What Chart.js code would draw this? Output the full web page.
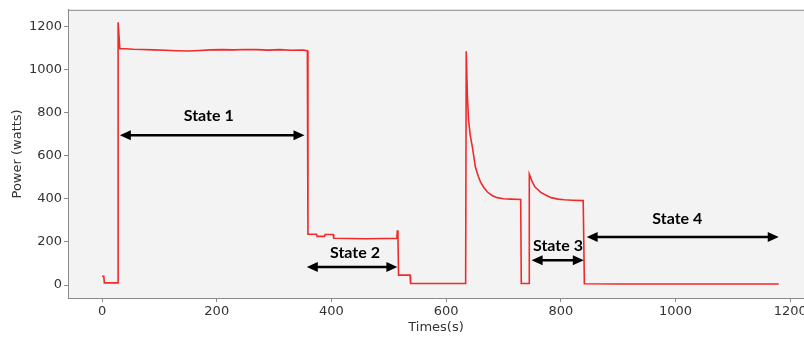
<!DOCTYPE html>
<html>
<head>
<meta charset="utf-8">
<script src="https://cdn.jsdelivr.net/npm/chart.js@4.4.1/dist/chart.umd.min.js"></script>
<style>
    body { margin: 0; background: #ffffff; }
    canvas { display: block; }
</style>
</head>
<body>
<canvas id="powerChart" width="804" height="339"></canvas>
<script>
// time (s) and power (watts)
let times = [0, 3, 4, 28, 28, 31, 33, 40, 55, 70, 90, 110, 130, 150, 170, 190, 210, 230, 250, 270, 290, 310, 330, 350, 358,
    359, 374, 375, 388, 389, 403, 404, 430, 460, 490, 514, 515, 516, 517, 537, 538, 634, 635, 637, 639, 642, 646, 651, 656,
    660, 666, 672, 680, 689, 700, 713, 730, 731, 745, 745, 750, 755, 765, 775, 783, 795, 806, 820, 839, 841, 900, 1000, 1100, 1180];
let power = [41, 41, 10, 10, 1220, 1097, 1097, 1097, 1095, 1094, 1092, 1090, 1088, 1087, 1089, 1092, 1093, 1092, 1094, 1093, 1091, 1093, 1090, 1091, 1088,
    236, 236, 226, 226, 235, 235, 217, 216, 215, 216, 217, 254, 217, 46, 46, 7, 7, 1085, 880, 770, 695, 637, 548, 505,
    478, 452, 432, 416, 406, 401, 399, 397, 7, 7, 515, 480, 455, 430, 416, 406, 399, 396, 394, 392, 6, 5, 5, 5, 5];

let xTicks = [0, 200, 400, 600, 800, 1000, 1200];
let yTicks = [0, 200, 400, 600, 800, 1000, 1200];

// state annotations: label, arrow start/end time, arrow power level, label position
let stateLabels = ['State 1', 'State 2', 'State 3', 'State 4'];
let arrowFrom = [31, 357, 749, 845];
let arrowTo = [353, 515, 840, 1180];
let arrowLevel = [696, 84, 115, 223];
let labelTime = [186, 441, 795, 1003];
let labelPower = [785, 150, 180, 307];

let points = [];
for (let i = 0; i < times.length; i++) {
    points.push({x: times[i], y: power[i]});
}

function drawArrow(ctx, x1, x2, y) {
    let head = 11;
    let half = 5;
    ctx.beginPath();
    ctx.moveTo(x1 + head - 2, y);
    ctx.lineTo(x2 - head + 2, y);
    ctx.stroke();
    ctx.beginPath();
    ctx.moveTo(x1, y);
    ctx.lineTo(x1 + head, y - half);
    ctx.lineTo(x1 + head, y + half);
    ctx.closePath();
    ctx.fill();
    ctx.beginPath();
    ctx.moveTo(x2, y);
    ctx.lineTo(x2 - head, y - half);
    ctx.lineTo(x2 - head, y + half);
    ctx.closePath();
    ctx.fill();
}

let plotDecor = {
    id: 'plotDecor',
    beforeDraw: function(chart) {
        let ctx = chart.ctx;
        let area = chart.chartArea;
        ctx.save();
        ctx.fillStyle = '#f3f3f3';
        ctx.fillRect(area.left, area.top, area.right - area.left, area.bottom - area.top);
        ctx.strokeStyle = '#8a8a8a';
        ctx.lineWidth = 1;
        ctx.beginPath();
        ctx.moveTo(area.left, area.top + 0.5);
        ctx.lineTo(area.right, area.top + 0.5);
        ctx.stroke();
        ctx.restore();
    },
    afterDraw: function(chart) {
        let ctx = chart.ctx;
        let xs = chart.scales.x;
        let ys = chart.scales.y;
        ctx.save();
        ctx.strokeStyle = '#000000';
        ctx.fillStyle = '#000000';
        ctx.lineWidth = 2.5;
        for (let i = 0; i < stateLabels.length; i++) {
            drawArrow(ctx, xs.getPixelForValue(arrowFrom[i]), xs.getPixelForValue(arrowTo[i]), ys.getPixelForValue(arrowLevel[i]));
        }
        ctx.font = 'bold 16px Lato, "Liberation Sans", sans-serif';
        ctx.textAlign = 'center';
        ctx.textBaseline = 'middle';
        for (let i = 0; i < stateLabels.length; i++) {
            ctx.fillText(stateLabels[i], xs.getPixelForValue(labelTime[i]), ys.getPixelForValue(labelPower[i]));
        }
        ctx.restore();
    }
};

let tickFont = {family: '"DejaVu Sans", sans-serif', size: 13};

function plainLabel(value) {
    return String(value);
}

let ctx = document.getElementById('powerChart').getContext('2d');
let myChart = new Chart(ctx, {
    type: 'line',
    data: {
        datasets: [{
            data: points,
            borderColor: '#f02a2a',
            borderWidth: 1.6,
            pointRadius: 0,
            tension: 0,
            fill: false
        }]
    },
    options: {
        responsive: false,
        animation: false,
        layout: {padding: {top: 7, left: 0, right: 0, bottom: 0}},
        plugins: {
            legend: {display: false},
            tooltip: {enabled: false}
        },
        scales: {
            x: {
                type: 'linear',
                min: -59.4,
                max: 1224,
                afterBuildTicks: function(scale) {
                    scale.ticks = xTicks.map(v => ({value: v}));
                },
                afterFit: function(scale) {
                    scale.height = 41;
                    scale.paddingLeft = 0;
                    scale.paddingRight = 0;
                },
                ticks: {color: '#333333', font: tickFont, padding: 2, maxRotation: 0, callback: plainLabel},
                grid: {drawOnChartArea: false, drawTicks: true, tickLength: 4, color: '#8a8a8a'},
                border: {display: true, color: '#8a8a8a', width: 1},
                title: {display: true, text: 'Times(s)', color: '#333333', font: tickFont, padding: {top: 0, bottom: 4}}
            },
            y: {
                min: -60,
                max: 1278,
                afterBuildTicks: function(scale) {
                    scale.ticks = yTicks.map(v => ({value: v}));
                },
                afterFit: function(scale) {
                    scale.width = 68;
                },
                ticks: {color: '#333333', font: tickFont, padding: 2, callback: plainLabel},
                grid: {drawOnChartArea: false, drawTicks: true, tickLength: 4, color: '#8a8a8a'},
                border: {display: true, color: '#8a8a8a', width: 1},
                title: {display: true, text: 'Power (watts)', color: '#333333', font: tickFont, padding: {top: 10, bottom: 0}}
            }
        }
    },
    plugins: [plotDecor]
});
</script>
</body>
</html>
